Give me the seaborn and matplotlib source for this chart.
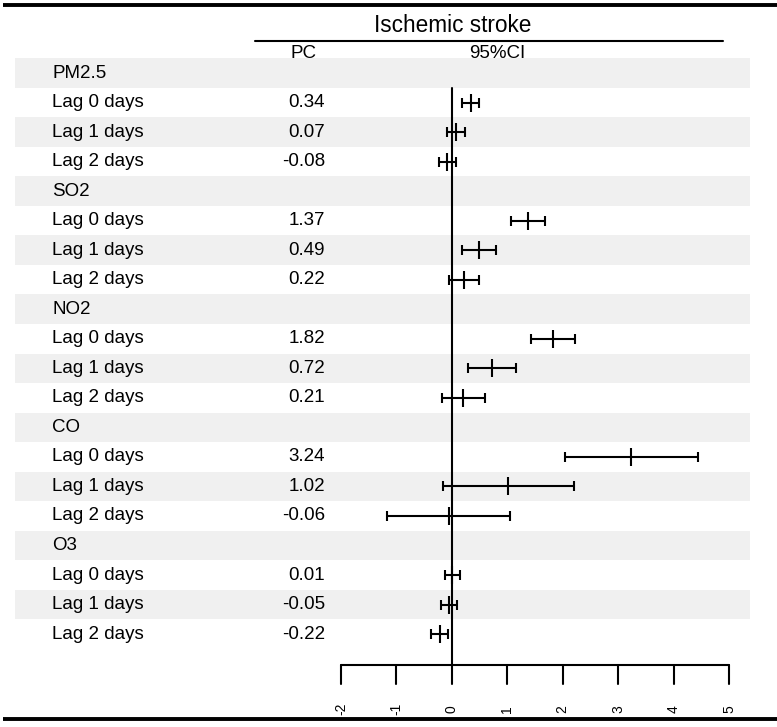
import numpy as np
import pandas as pd
import matplotlib
matplotlib.use("Agg")
import matplotlib.pyplot as plt
import seaborn as sns

# values
exposures = ["PM2.5", "SO2", "NO2", "CO", "O3"]
lags = ["Lag 0 days", "Lag 1 days", "Lag 2 days"]
pc = [0.34, 0.07, -0.08,
      1.37, 0.49, 0.22,
      1.82, 0.72, 0.21,
      3.24, 1.02, -0.06,
      0.01, -0.05, -0.22]
lower = [0.19, -0.09, -0.23,
         1.06, 0.19, -0.05,
         1.42, 0.29, -0.18,
         2.04, -0.16, -1.17,
         -0.13, -0.19, -0.37]
upper = [0.49, 0.23, 0.07,
         1.68, 0.79, 0.49,
         2.22, 1.15, 0.60,
         4.44, 2.20, 1.05,
         0.15, 0.10, -0.07]
xticks = [-2, -1, 0, 1, 2, 3, 4, 5]

# build row table: a group heading row followed by its three lag rows
rows = []
k = 0
for g in exposures:
    rows.append({"label": g, "pc": np.nan, "lo": np.nan, "hi": np.nan})
    for lag in lags:
        rows.append({"label": lag, "pc": pc[k], "lo": lower[k], "hi": upper[k]})
        k += 1
df = pd.DataFrame(rows)
df["y"] = np.arange(len(df))
est = df.dropna()

sns.set_theme(style="white")
plt.rcParams["font.family"] = ["Liberation Sans", "DejaVu Sans"]
plt.rcParams["text.color"] = "black"

fig = plt.figure(figsize=(7.77, 7.27), dpi=100)
ax = fig.add_axes([0, 0, 1, 1])

# map pixels to data: x=-2 at 341px, x=5 at 729px; row 0 at 73px, 29.53px per row
W, H = 777, 727
px_per_unit = (729 - 341) / 7
x0 = -2 - 341 / px_per_unit
x1 = 5 + (W - 729) / px_per_unit
row_h = 29.53
y_top = -73 / row_h
y_bot = (H - 73) / row_h

def px2x(p):
    return x0 + p / px_per_unit

def py2y(p):
    return (p - 73) / row_h

# zebra shading
for y in df["y"][::2]:
    ax.axhspan(y - 0.5, y + 0.5, xmin=15 / W, xmax=750 / W, color="#f0f0f0", lw=0, zorder=0)

# row labels and PC values
for _, r in df.iterrows():
    ax.text(px2x(52), r["y"], r["label"], ha="left", va="center", fontsize=13.5)
    if not np.isnan(r["pc"]):
        ax.text(px2x(325), r["y"], f"{r['pc']:.2f}", ha="right", va="center", fontsize=13.5)

# header
ax.text(px2x(453), py2y(25), "Ischemic stroke", ha="center", va="center", fontsize=16.3)
ax.plot([px2x(255), px2x(723)], [py2y(40.5), py2y(40.5)], color="black", lw=1.5)
ax.text(px2x(304), py2y(53), "PC", ha="center", va="center", fontsize=13.5)
ax.text(px2x(497), py2y(53), "95%CI", ha="center", va="center", fontsize=13.5)

# top and bottom rules
ax.plot([px2x(3), px2x(777)], [py2y(5), py2y(5)], color="black", lw=2.8, solid_capstyle="butt")
ax.plot([px2x(3), px2x(777)], [py2y(719), py2y(719)], color="black", lw=2.8, solid_capstyle="butt")

# reference line at zero and x axis
axis_y = py2y(665)
ax.plot([0, 0], [0.5, axis_y], color="black", lw=1.5)
ax.plot([xticks[0], xticks[-1]], [axis_y, axis_y], color="black", lw=1.5)
for t in xticks:
    ax.plot([t, t], [axis_y, py2y(684)], color="black", lw=1.5)
    ax.text(t, py2y(709), str(t), rotation=90, ha="center", va="center", fontsize=10)

# confidence intervals
ax.errorbar(est["pc"], est["y"], xerr=[est["pc"] - est["lo"], est["hi"] - est["pc"]],
            fmt="none", ecolor="black", elinewidth=1.5, capsize=3.5, capthick=1.5)
# point estimates
sns.scatterplot(data=est, x="pc", y="y", marker="|", s=170, color="black",
                linewidth=1.5, ax=ax, zorder=3, legend=False)

ax.set_xlim(x0, x1)
ax.set_ylim(y_bot, y_top)
ax.axis("off")

fig.savefig("out.png", dpi=100)
